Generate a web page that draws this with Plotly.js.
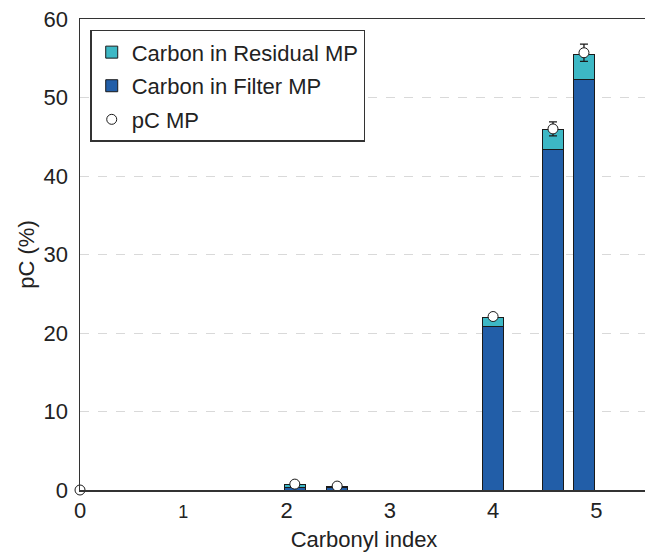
<!DOCTYPE html>
<html>
<head>
<meta charset="utf-8">
<script src="https://cdn.plot.ly/plotly-3.0.1.min.js"></script>
<style>html,body{margin:0;padding:0;overflow:hidden;background:#fff;}</style>
</head>
<body>
<div id="chart"></div>
<script>
// Data
const carbonylIndex = [2.08, 2.49, 4.0, 4.58, 4.88];
const filterMP = [0.3, 0.3, 20.8, 43.4, 52.3];
const residualMP = [0.4, 0.1, 1.2, 2.5, 3.2];
const pcX = [0, 2.08, 2.49, 4.0, 4.58, 4.88];
const pcMP = [0, 0.75, 0.5, 22.1, 46.0, 55.7];
const pcErr = [0, 0, 0, 0, 0.9, 1.1];
const xTickVals = [0, 1, 2, 3, 4, 5];
const xTickText = ['0', '<span style="font-size:18px">1</span>', '2', '3', '4', '5'];
const yTickVals = [0, 10, 20, 30, 40, 50, 60];

const traces = [
  {
    type: 'bar', name: 'Carbon in Filter MP', x: carbonylIndex, y: filterMP,
    width: 0.2, marker: {color: '#225ea8', line: {color: '#1a1a1a', width: 1}},
    legendrank: 2, legendgroup: 'b'
  },
  {
    type: 'bar', name: 'Carbon in Residual MP', x: carbonylIndex, y: residualMP,
    width: 0.2, marker: {color: '#3db8c5', line: {color: '#1a1a1a', width: 1}},
    legendrank: 1, legendgroup: 'a'
  },
  {
    type: 'scatter', mode: 'markers', name: 'pC MP', x: pcX, y: pcMP,
    marker: {symbol: 'circle', size: 10, color: '#ffffff', line: {color: '#1a1a1a', width: 1}},
    error_y: {type: 'data', array: pcErr, visible: true, color: '#1a1a1a', thickness: 1.3, width: 4},
    cliponaxis: false, legendrank: 3, legendgroup: 'c'
  }
];

const layout = {
  width: 650, height: 556,
  margin: {l: 80, r: 2, t: 19, b: 66},
  paper_bgcolor: '#fff', plot_bgcolor: '#fff',
  barmode: 'stack',
  font: {family: 'Liberation Sans, Arial, sans-serif', color: '#222', size: 22},
  xaxis: {
    range: [0, 5.5], tickmode: 'array', tickvals: xTickVals, ticktext: xTickText,
    showgrid: false, zeroline: false, showline: true, linecolor: '#333', linewidth: 1.5,
    mirror: true, ticks: '', tickfont: {size: 22, color: '#222'},
    title: {text: 'Carbonyl index', font: {size: 22, color: '#222'}, standoff: 9}
  },
  yaxis: {
    range: [0, 60], tickmode: 'array', tickvals: yTickVals,
    showgrid: true, gridcolor: '#d9d9d9', griddash: 'dash', gridwidth: 1,
    zeroline: false, showline: true, linecolor: '#333', linewidth: 1.5, mirror: true,
    ticks: '', ticklabelstandoff: 6, tickfont: {size: 22, color: '#222'},
    title: {text: 'pC (%)', font: {size: 22, color: '#222'}, standoff: 3}
  },
  legend: {
    x: 0.018, y: 0.977, xanchor: 'left', yanchor: 'top',
    bgcolor: '#fff', bordercolor: '#333', borderwidth: 1.5,
    font: {size: 22, color: '#222'}, tracegroupgap: 2
  },
  showlegend: true
};

Plotly.newPlot('chart', traces, layout, {displayModeBar: false, staticPlot: true});
</script>
</body>
</html>
